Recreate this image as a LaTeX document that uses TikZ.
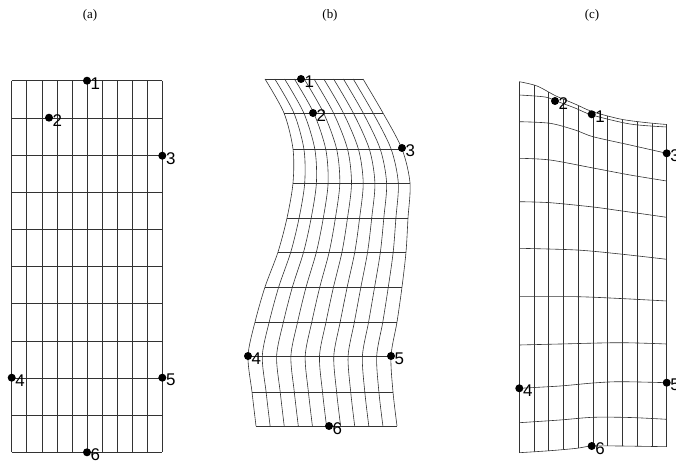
\documentclass[tikz,border=0pt]{standalone}
\usepackage{fontspec}
\setmainfont{Liberation Serif}
\newfontfamily\lblfont{Liberation Sans}
\begin{document}
\begin{tikzpicture}[x=1bp,y=-1bp,
  grid/.style={line width=0.6bp, black!80},
  pt/.style={circle,fill=black,inner sep=0pt,minimum size=8bp},
  lbl/.style={anchor=west,inner sep=0pt,font=\lblfont\fontsize{17}{17}\selectfont},
  ttl/.style={inner sep=0pt,font=\fontsize{13}{14}\selectfont}]
\useasboundingbox (0,0) rectangle (676,461);
% titles
\node[ttl] (ta) at (90,15.5) {(a)};
\node[ttl] (tb) at (330,15.5) {(b)};
\node[ttl] (tc) at (592,15.5) {(c)};
% ---------- panel (a)
\foreach \i in {0,...,10} {
  \draw[grid] (11.7+15.06*\i,80.7) -- (11.7+15.06*\i,452.3);
  \draw[grid] (11.7,80.7+37.16*\i) -- (162.3,80.7+37.16*\i);
}
% ---------- panel (b)
\def\By{{79,113,149,183,218,252,287,322,356,392,426}}
\def\BL{{265,284,293,293,287,278,265,255,248,252,256}}
\def\BR{{363,383,402,410,408,406,402,397,391,393,397}}
\foreach \i in {0,...,10} {
  \pgfmathsetmacro\yy{\By[\i]}
  \pgfmathsetmacro\xl{\BL[\i]}
  \pgfmathsetmacro\xr{\BR[\i]}
  \draw[grid] (\xl,\yy) -- (\xr,\yy);
}
\foreach \j in {0,...,10} {
  \gdef\pts{}
  \foreach \i in {0,...,10} {
    \pgfmathsetmacro\xx{\BL[\i]+(\BR[\i]-\BL[\i])*\j/10}
    \pgfmathsetmacro\yy{\By[\i]}
    \xdef\pts{\pts (\xx,\yy)}
  }
  \edef\tmp{\noexpand\draw[grid] plot[smooth,tension=0.5] coordinates {\pts};}
  \tmp
}
% ---------- panel (c)
\def\RowZero{(519.3,81.7) (537,86) (556,96) (575,104) (592,111.5) (620,119) (645,122.5) (666.7,124.5)}
\def\RowTenRev{(666.7,446.7) (620,446) (591.7,446) (576.7,448.3) (550,450.7) (519.3,452.7)}
\begin{scope}
  \edef\tmp{\noexpand\clip plot[smooth] coordinates {\RowZero} -- plot[smooth] coordinates {\RowTenRev} -- cycle;}
  \tmp
  \foreach \j in {0,...,10} {
    \draw[grid] (519.3+14.74*\j,70) -- (519.3+14.74*\j,460);
  }
\end{scope}
\draw[grid] (519.3,81.7) -- (519.3,452.7);
\draw[grid] (666.7,124.5) -- (666.7,446.7);
\foreach \r in {
  {(519.3,81.7) (537,86) (556,96) (575,104) (592,111.5) (620,119) (645,122.5) (666.7,124.5)},
  {(519.3,95) (545,97) (556,101) (575,108) (592,115) (630,124) (666.7,127)},
  {(519.3,121.7) (550,123.3) (575,130) (593,136.7) (630,145) (666.7,153.3)},
  {(519.3,158.3) (550,160) (593,168) (630,175) (666.7,181)},
  {(519.3,201.7) (550,202.7) (593,207) (620,210.7) (666.7,217.3)},
  {(519.3,248.3) (576.7,250) (620,254) (666.7,259.3)},
  {(519.3,296.7) (576.7,296.7) (620,298.5) (666.7,301)},
  {(519.3,345) (560,344) (620,342.7) (666.7,344)},
  {(519.3,388.3) (560,386) (593,383) (620,381.7) (666.7,382.7)},
  {(519.3,422.7) (560,420) (593,417.3) (630,417.5) (666.7,419.3)},
  {(519.3,452.7) (550,450.7) (576.7,448.3) (591.7,446) (620,446) (666.7,446.7)}} {
  \edef\tmp{\noexpand\draw[grid] plot[smooth,tension=0.5] coordinates {\r};}
  \tmp
}
% ---------- points
\foreach \n/\x/\y/\t in {
  a1/87/80.7/1, a2/49/117.7/2, a3/162.3/155.7/3, a4/11.7/377.7/4, a5/162.3/377.7/5, a6/87/452.3/6,
  b1/301/79/1, b2/313/113/2, b3/402/148/3, b4/248/356/4, b5/391/356/5, b6/329/426/6,
  c1/591.7/114.3/1, c2/555/101/2, c3/666.7/153.3/3, c4/519.3/388.3/4, c5/666.7/382.7/5, c6/591.7/446/6} {
  \node[pt] (\n) at (\x,\y) {};
  \node[lbl] (\n l) at ([xshift=3.5bp,yshift=-2.5bp]\n.center) {\t};
}
\end{tikzpicture}
\end{document}
